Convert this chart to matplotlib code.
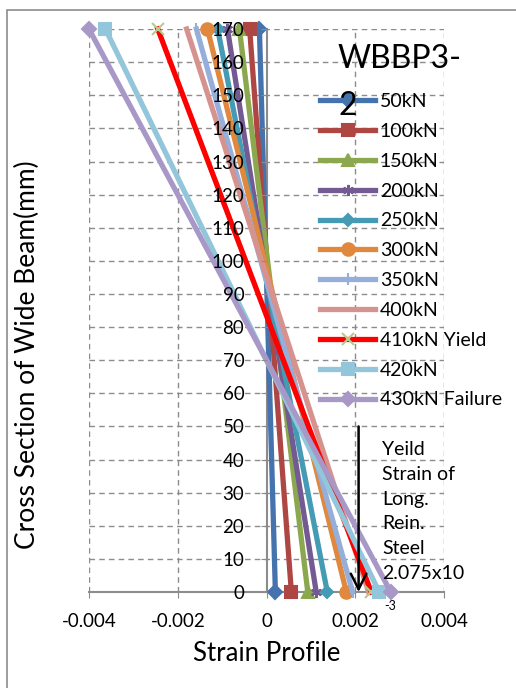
import matplotlib
matplotlib.use('Agg')
import matplotlib.pyplot as plt
from matplotlib.patches import Rectangle

plt.rcParams['font.family'] = ['Lato', 'DejaVu Sans']

# Strain at the bottom (0 mm) and top (170 mm) of the section for each load step
depth = [0, 170]
loads = ['50kN', '100kN', '150kN', '200kN', '250kN', '300kN',
         '350kN', '400kN', '410kN Yield', '420kN', '430kN Failure']
strain_bottom = [0.00020, 0.00056, 0.00093, 0.00112, 0.00137, 0.00180,
                 0.00194, 0.00230, 0.00236, 0.00254, 0.00280]
strain_top = [-0.00016, -0.00038, -0.00061, -0.00088, -0.00110, -0.00133,
              -0.00158, -0.00180, -0.00245, -0.00363, -0.00400]

x_ticks = [-0.004, -0.002, 0, 0.002, 0.004]
x_ticklabels = ['-0.004', '-0.002', '0', '0.002', '0.004']
y_ticks = list(range(0, 171, 10))

colors = ['#4573AE', '#AE4744', '#8BA84F', '#735A93', '#459BB4', '#E0883D',
          '#95AEDA', '#D6928F', '#FF0000', '#93C6DA', '#A898C8']
markers = ['D', 's', '^', (6, 2, 0), 'D', 'o', '|', '', 'x', 's', 'D']
msizes = [7, 8, 8, 8, 6, 9, 9, 0, 8, 9, 7]
mcolors = colors[:8] + ['#B5CC8E'] + colors[9:]

yield_strain = 0.002075
grid_col = '#8C8C8C'

fig = plt.figure(figsize=(5.16, 6.88), dpi=100)
ax = fig.add_axes([0.1725, 0.1395, 0.688, 0.8183])

# chart area outline
fig.patches.append(Rectangle((7 / 516, -0.1), 1.2, 1 - 10 / 688 + 0.1,
                             transform=fig.transFigure, fill=False,
                             edgecolor=grid_col, linewidth=1.2))

# dashed gridlines kept underneath the series
for yv in y_ticks[1:]:
    ax.axhline(yv, color=grid_col, linestyle=(0, (4, 3)), linewidth=1, zorder=1)
for xv in x_ticks:
    if xv != 0:
        ax.axvline(xv, color=grid_col, linestyle=(0, (4, 3)), linewidth=1, zorder=1)

for i in range(len(loads)):
    ax.plot([strain_bottom[i], strain_top[i]], depth, color=colors[i],
            linewidth=3.8, marker=markers[i], markersize=msizes[i],
            markerfacecolor=mcolors[i], markeredgecolor=mcolors[i],
            markeredgewidth=1.5, label=loads[i], clip_on=False, zorder=3)

ax.set_xlim(-0.004, 0.004)
ax.set_ylim(0, 170)
ax.set_xticks(x_ticks)
ax.set_xticklabels(x_ticklabels)
ax.set_yticks(y_ticks)

for side in ['top', 'right']:
    ax.spines[side].set_visible(False)
ax.spines['left'].set_position(('data', 0))
for side in ['left', 'bottom']:
    ax.spines[side].set_color(grid_col)
    ax.spines[side].set_linewidth(1.5)
    ax.spines[side].set_zorder(2.5)

ax.tick_params(axis='x', direction='out', length=4, color=grid_col,
               labelsize=13.5, pad=11)
ax.tick_params(axis='y', direction='out', length=4, color=grid_col,
               labelsize=13.5, pad=12)
ax.yaxis.set_zorder(4)
ax.xaxis.set_zorder(4)

ax.set_xlabel('Strain Profile', fontsize=18.5, labelpad=8)
ax.set_ylabel('Cross Section of Wide Beam(mm)', fontsize=19)
ax.yaxis.set_label_coords(-0.137, 0.421)

fig.text(338 / 516, 1 - 44 / 688, 'WBBP3-\n2', fontsize=23, va='top',
         ha='left', linespacing=1.7, zorder=5)

leg = ax.legend(loc='upper left', bbox_to_anchor=(0.63, 0.9), frameon=False,
                fontsize=14, handlelength=2.8, handletextpad=0.25,
                labelspacing=0.66, borderaxespad=0)
leg.set_zorder(6)

# yield strain marker
ax.annotate('', xy=(yield_strain, 0), xytext=(yield_strain, 50),
            arrowprops=dict(arrowstyle='->', color='black', lw=1.8,
                            mutation_scale=28, shrinkA=0, shrinkB=0),
            zorder=7, annotation_clip=False)
ax.text(0.00261, 45.5, 'Yeild\nStrain of\nLong.\nRein.\nSteel\n2.075x10',
        fontsize=14, va='top', ha='left', linespacing=1.55, zorder=7)
ax.text(0.00265, -2.5, '-3', fontsize=9, va='top', ha='left', zorder=7)

fig.savefig('out.png', dpi=100)
